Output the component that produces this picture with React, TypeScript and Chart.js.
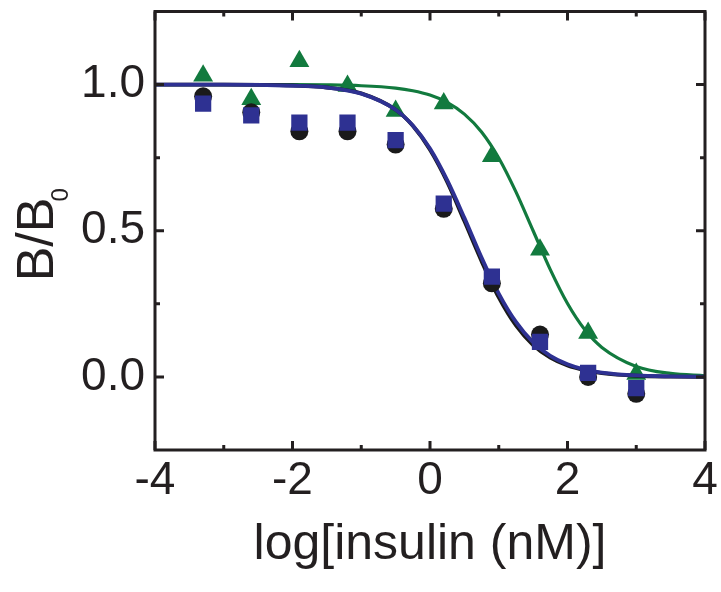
import React, { useEffect, useRef } from "react";
import { Chart, registerables } from "chart.js";

Chart.register(...registerables);

// log[insulin (nM)] of the measured points
const logConc = [-3.3, -2.6, -1.9, -1.2, -0.5, 0.2, 0.9, 1.6, 2.3, 3.0];
const triangleValues = [1.03, 0.95, 1.08, 0.995, 0.91, 0.935, 0.755, 0.435, 0.15, 0.01];
const circleValues = [0.96, 0.905, 0.84, 0.84, 0.795, 0.575, 0.32, 0.145, 0.0, -0.058];
const squareValues = [0.935, 0.895, 0.87, 0.87, 0.81, 0.593, 0.343, 0.12, 0.014, -0.038];

// fitted curves
const curveX = [-4, -3, -2, -1.5, -1, -0.5, -0.25, 0, 0.25, 0.5, 0.75, 1, 1.25, 1.5, 1.75, 2, 2.25, 2.5, 3, 3.5, 4];
const blueCurve = [1.0, 1.0, 0.996, 0.99, 0.969, 0.914, 0.86, 0.781, 0.673, 0.544, 0.408, 0.285, 0.188, 0.118, 0.072, 0.043, 0.025, 0.015, 0.005, 0.002, 0.001];
const blackCurve = [1.0, 1.0, 0.997, 0.99, 0.97, 0.914, 0.859, 0.777, 0.667, 0.533, 0.396, 0.272, 0.176, 0.109, 0.066, 0.039, 0.023, 0.013, 0.004, 0.001, 0.0];
const greenCurve = [1.0, 1.0, 1.0, 0.999, 0.996, 0.988, 0.979, 0.964, 0.939, 0.899, 0.838, 0.749, 0.633, 0.5, 0.367, 0.251, 0.162, 0.101, 0.036, 0.012, 0.004];

const xTicks = [-4, -2, 0, 2, 4];
const xMinorTicks = [-3, -1, 1, 3];
const yTicks = [0, 0.5, 1.0];
const yMinorTicks = [0.25, 0.75];

const xTitle = "log[insulin (nM)]";
const yTitleMain = "B/B";
const yTitleSub = "0";

const GREEN = "#127a3e";
const BLUE = "#2e3192";
const BLACK = "#1a1a1a";
const INK = "#231f20";
const FONT = '"Liberation Sans", Arial, Helvetica, sans-serif';

const pts = (xs: number[], ys: number[]) => xs.map((x, i) => ({ x, y: ys[i] }));

const framePlugin = {
  id: "framePlugin",
  afterDraw(chart: any) {
    const ctx = chart.ctx;
    const { left, right, top, bottom } = chart.chartArea;
    const xs = chart.scales.x;
    const ys = chart.scales.y;
    ctx.save();
    ctx.strokeStyle = INK;
    ctx.lineWidth = 3;
    ctx.lineCap = "butt";
    ctx.strokeRect(left, top, right - left, bottom - top);
    const major = 9;
    const minor = 5;
    const tickX = (v: number, len: number) => {
      const px = xs.getPixelForValue(v);
      ctx.beginPath();
      ctx.moveTo(px, bottom);
      ctx.lineTo(px, bottom - len);
      ctx.moveTo(px, top);
      ctx.lineTo(px, top + len);
      ctx.stroke();
    };
    const tickY = (v: number, len: number) => {
      const py = ys.getPixelForValue(v);
      ctx.beginPath();
      ctx.moveTo(left, py);
      ctx.lineTo(left + len, py);
      ctx.moveTo(right, py);
      ctx.lineTo(right - len, py);
      ctx.stroke();
    };
    xTicks.forEach((v) => tickX(v, major));
    xMinorTicks.forEach((v) => tickX(v, minor));
    yTicks.forEach((v) => tickY(v, major));
    yMinorTicks.forEach((v) => tickY(v, minor));

    // y-axis title with subscript
    ctx.fillStyle = INK;
    ctx.textAlign = "left";
    ctx.textBaseline = "alphabetic";
    ctx.font = `52px ${FONT}`;
    const w = ctx.measureText(yTitleMain).width;
    ctx.font = `24px ${FONT}`;
    const ws = ctx.measureText(yTitleSub).width;
    const total = w + ws - 4;
    const cy = (top + bottom) / 2 + 4;
    ctx.translate(53, cy + total / 2);
    ctx.rotate(-Math.PI / 2);
    ctx.font = `52px ${FONT}`;
    ctx.fillText(yTitleMain, 0, 0);
    ctx.font = `24px ${FONT}`;
    ctx.fillText(yTitleSub, w - 4, 15);
    ctx.restore();
  },
};

const zeroPad = (s: any) => {
  s.paddingTop = 0;
  s.paddingBottom = 0;
  s.paddingLeft = 0;
  s.paddingRight = 0;
};

export default function App() {
  const ref = useRef<HTMLCanvasElement | null>(null);
  useEffect(() => {
    if (!ref.current) return;
    const chart = new Chart(ref.current, {
      type: "scatter",
      data: {
        datasets: [
          {
            label: "squares",
            data: pts(logConc, squareValues),
            pointStyle: "rect",
            pointRadius: 11.5,
            backgroundColor: BLUE,
            borderWidth: 0,
            showLine: false,
            order: 0,
          },
          {
            label: "circles",
            data: pts(logConc, circleValues),
            pointStyle: "circle",
            pointRadius: 9,
            backgroundColor: BLACK,
            borderWidth: 0,
            showLine: false,
            order: 1,
          },
          {
            label: "blue fit",
            data: pts(curveX, blueCurve),
            showLine: true,
            borderColor: BLUE,
            borderWidth: 3.8,
            pointRadius: 0,
            cubicInterpolationMode: "monotone",
            order: 2,
          },
          {
            label: "black fit",
            data: pts(curveX, blackCurve),
            showLine: true,
            borderColor: BLACK,
            borderWidth: 3.8,
            pointRadius: 0,
            cubicInterpolationMode: "monotone",
            order: 3,
          },
          {
            label: "triangles",
            data: pts(logConc, triangleValues),
            pointStyle: "triangle",
            pointRadius: 11.5,
            backgroundColor: GREEN,
            borderWidth: 0,
            showLine: false,
            order: 4,
          },
          {
            label: "green fit",
            data: pts(curveX, greenCurve),
            showLine: true,
            borderColor: GREEN,
            borderWidth: 3.2,
            pointRadius: 0,
            cubicInterpolationMode: "monotone",
            order: 5,
          },
        ] as any,
      },
      options: {
        animation: false,
        responsive: false,
        layout: { padding: { left: 0, right: 16, top: 8, bottom: 0 } },
        plugins: { legend: { display: false }, tooltip: { enabled: false } },
        scales: {
          x: {
            type: "linear",
            min: -4,
            max: 4,
            afterBuildTicks: (s: any) => {
              s.ticks = xTicks.map((v) => ({ value: v }));
            },
            afterFit: (s: any) => {
              s.height = 142;
              zeroPad(s);
            },
            grid: { display: false, drawTicks: false },
            border: { display: false },
            ticks: {
              padding: 4,
              color: INK,
              font: { family: FONT, size: 46 },
              callback: (v: any) => String(v),
            },
            title: {
              display: true,
              text: xTitle,
              color: INK,
              font: { family: FONT, size: 50 },
              padding: { top: 0, bottom: 17 },
            },
          },
          y: {
            type: "linear",
            min: -0.25,
            max: 1.25,
            afterBuildTicks: (s: any) => {
              s.ticks = yTicks.map((v) => ({ value: v }));
            },
            afterFit: (s: any) => {
              s.width = 155;
              zeroPad(s);
            },
            grid: { display: false, drawTicks: false },
            border: { display: false },
            ticks: {
              padding: 10,
              color: INK,
              font: { family: FONT, size: 46 },
              callback: (v: any) => Number(v).toFixed(1),
            },
          },
        },
      },
      plugins: [framePlugin],
    } as any);
    return () => chart.destroy();
  }, []);
  return (
    <div style={{ position: "absolute", left: 0, top: 0, width: 721, height: 592, background: "#fff" }}>
      <canvas ref={ref} width={721} height={592} style={{ display: "block", width: 721, height: 592 }} />
    </div>
  );
}
